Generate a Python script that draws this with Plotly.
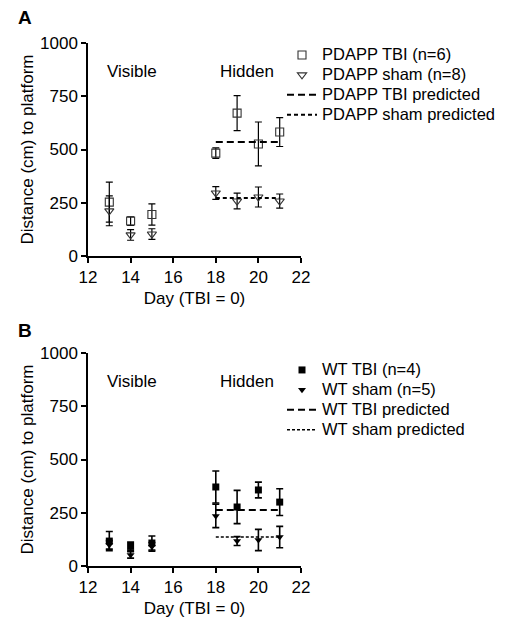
import plotly.graph_objects as go

# ---- data ----
days = [13, 14, 15, 18, 19, 20, 21]
pred_days = [18, 21]

A_tbi = [253, 164, 195, 483, 671, 526, 582]
A_tbi_err = [94, 20, 50, 25, 82, 103, 68]
A_sham = [212, 99, 103, 296, 258, 277, 258]
A_sham_err = [70, 25, 25, 30, 37, 47, 33]
A_tbi_pred = [535, 535]
A_sham_pred = [272, 272]

B_tbi = [117, 92, 108, 371, 277, 357, 300]
B_tbi_err = [45, 20, 33, 75, 78, 37, 63]
B_sham = [99, 52, 90, 235, 117, 122, 136]
B_sham_err = [20, 15, 20, 55, 21, 50, 50]
B_tbi_pred = [263, 263]
B_sham_pred = [136, 136]

A_names = ["PDAPP TBI (n=6)", "PDAPP sham (n=8)", "PDAPP TBI predicted", "PDAPP sham predicted"]
B_names = ["WT TBI (n=4)", "WT sham (n=5)", "WT TBI predicted", "WT sham predicted"]

y_ticks = [0, 250, 500, 750, 1000]
x_ticks = [12, 14, 16, 18, 20, 22]

FONT = "Arial, Liberation Sans, Helvetica, sans-serif"
W, H = 509, 628
OFF = 8  # page body margin


def px(x):
    return (x - OFF) / W


def py(y):
    return 1 - (y - OFF) / H


def lname(s):
    return '<span style="font-size:16.5px">' + s + '</span>'


fig = go.Figure()


def err(vals, thick):
    return dict(type="data", array=vals, visible=True, color="black", thickness=thick, width=3.5)


# Panel A
fig.add_trace(go.Scatter(x=days, y=A_tbi, mode="markers", name=lname(A_names[0]),
                         marker=dict(symbol="square-open", size=8, color="#333", line=dict(width=1.1)),
                         error_y=err(A_tbi_err, 1.2), xaxis="x", yaxis="y", legend="legend"))
fig.add_trace(go.Scatter(x=days, y=A_sham, mode="markers", name=lname(A_names[1]),
                         marker=dict(symbol="triangle-down-open", size=8, color="#333", line=dict(width=1.1)),
                         error_y=err(A_sham_err, 1.2), xaxis="x", yaxis="y", legend="legend"))
fig.add_trace(go.Scatter(x=pred_days, y=A_tbi_pred, mode="lines", name=lname(A_names[2]),
                         line=dict(color="black", width=2, dash="7px,4px"), xaxis="x", yaxis="y", legend="legend"))
fig.add_trace(go.Scatter(x=pred_days, y=A_sham_pred, mode="lines", name=lname(A_names[3]),
                         line=dict(color="black", width=2, dash="4px,3px"), xaxis="x", yaxis="y", legend="legend"))

# Panel B
fig.add_trace(go.Scatter(x=days, y=B_tbi, mode="markers", name=lname(B_names[0]),
                         marker=dict(symbol="square", size=7, color="black"),
                         error_y=err(B_tbi_err, 1.6), xaxis="x2", yaxis="y2", legend="legend2"))
fig.add_trace(go.Scatter(x=days, y=B_sham, mode="markers", name=lname(B_names[1]),
                         marker=dict(symbol="triangle-down", size=7, color="black"),
                         error_y=err(B_sham_err, 1.6), xaxis="x2", yaxis="y2", legend="legend2"))
fig.add_trace(go.Scatter(x=pred_days, y=B_tbi_pred, mode="lines", name=lname(B_names[2]),
                         line=dict(color="black", width=2, dash="7px,4px"), xaxis="x2", yaxis="y2", legend="legend2"))
fig.add_trace(go.Scatter(x=pred_days, y=B_sham_pred, mode="lines", name=lname(B_names[3]),
                         line=dict(color="black", width=1.5, dash="3px,2px"), xaxis="x2", yaxis="y2", legend="legend2"))

xdom = [px(88), px(301)]
ydomA = [py(256), py(43)]
ydomB = [py(566), py(353)]

axis_common = dict(showline=True, linecolor="black", linewidth=1.5, ticks="outside",
                   ticklen=5, tickwidth=1.5, tickcolor="black", showgrid=False, zeroline=False,
                   automargin=False,
                   tickfont=dict(family=FONT, size=17, color="black"))

x_common = dict(axis_common, range=[12, 22], tickvals=x_ticks, domain=xdom,
                title=dict(text="Day (TBI = 0)", font=dict(family=FONT, size=17, color="black"), standoff=6))
y_common = dict(axis_common, range=[0, 1000], tickvals=y_ticks,
                title=dict(text="Distance (cm) to platform", font=dict(family=FONT, size=17, color="black"), standoff=2))

legend_common = dict(font=dict(family=FONT, size=13, color="black"), bgcolor="rgba(0,0,0,0)",
                     xanchor="left", yanchor="top", tracegroupgap=0, itemwidth=30)

fig.update_layout(
    width=W, height=H,
    margin=dict(l=0, r=0, t=0, b=0, autoexpand=False),
    paper_bgcolor="white", plot_bgcolor="white",
    xaxis=dict(x_common, anchor="y"),
    yaxis=dict(y_common, domain=ydomA, anchor="x"),
    xaxis2=dict(x_common, anchor="y2"),
    yaxis2=dict(y_common, domain=ydomB, anchor="x2"),
    legend=dict(legend_common, x=px(282), y=py(40)),
    legend2=dict(legend_common, x=px(282), y=py(355)),
    font=dict(family=FONT, color="black"),
    annotations=[
        dict(text="<b>A</b>", x=px(16), y=py(17), xref="paper", yref="paper", showarrow=False,
             xanchor="left", yanchor="middle", font=dict(family=FONT, size=19, color="black")),
        dict(text="<b>B</b>", x=px(16), y=py(330), xref="paper", yref="paper", showarrow=False,
             xanchor="left", yanchor="middle", font=dict(family=FONT, size=19, color="black")),
        dict(text="Visible", x=14.05, y=865, xref="x", yref="y", showarrow=False,
             font=dict(family=FONT, size=17, color="black")),
        dict(text="Hidden", x=19.45, y=865, xref="x", yref="y", showarrow=False,
             font=dict(family=FONT, size=17, color="black")),
        dict(text="Visible", x=14.05, y=865, xref="x2", yref="y2", showarrow=False,
             font=dict(family=FONT, size=17, color="black")),
        dict(text="Hidden", x=19.45, y=865, xref="x2", yref="y2", showarrow=False,
             font=dict(family=FONT, size=17, color="black")),
    ],
)

fig.write_html("out.html")
